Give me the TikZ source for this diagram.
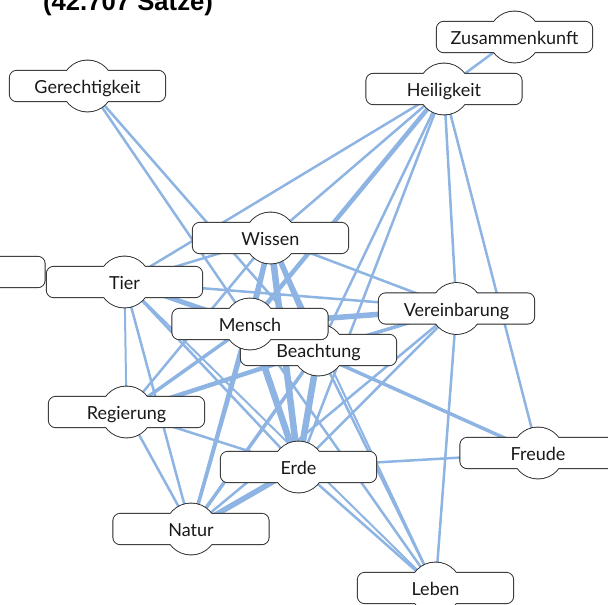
\documentclass[tikz,border=0pt]{standalone}
\usepackage{fontspec}
\setmainfont{Lato}
\newfontfamily\titlefont{Liberation Sans}
\definecolor{edgeblue}{RGB}{141,180,226}
\pgfdeclarelayer{edges}
\pgfdeclarelayer{shapes}
\pgfsetlayers{edges,shapes,main}
\begin{document}
\begin{tikzpicture}[x=1pt,y=-1pt,
  lab/.style={rectangle, inner sep=0pt, minimum width=155pt, minimum height=30pt,
    text height=18pt, text depth=3pt, font=\fontsize{18}{20}\selectfont, text=black!90},
  ed/.style={draw=edgeblue, line width=#1},
  ed/.default=2.5pt,
  outl/.style={fill=white, draw=black!85, line width=1.8pt}]
\useasboundingbox (0,0) rectangle (608,605);

\node[font=\titlefont\bfseries\fontsize{25.7}{28}\selectfont, anchor=base] (title) at (128,10) {(42.707 Sätze)};

\node[lab] (lft) at (-33,272) {};
\node[lab] (ger) at (87.5,86) {Gerechtigkeit};
\node[lab] (zus) at (514.5,37) {Zusammenkunft};
\node[lab] (hei) at (444,89) {Heiligkeit};
\node[lab] (wis) at (270.5,238) {Wissen};
\node[lab] (tie) at (124.5,282) {Tier};
\node[lab] (ver) at (456.5,308.5) {Vereinbarung};
\node[lab] (bea) at (318.5,350) {Beachtung};
\node[lab] (men) at (250,324) {Mensch};
\node[lab] (reg) at (126.5,412) {Regierung};
\node[lab] (erd) at (298.5,467) {Erde};
\node[lab] (fre) at (538,453) {Freude};
\node[lab] (nat) at (191,529) {Natur};
\node[lab] (leb) at (435.5,588) {Leben};

\begin{pgfonlayer}{shapes}
\foreach \n in {lft,ger,zus,hei,wis,tie,ver,reg,bea,men,erd,fre,nat,leb} {
  \path[outl] (\n.center) circle (25.5pt);
  \path[outl, rounded corners=7pt] (\n.south west) rectangle (\n.north east);
  \fill[white] (\n.center) circle (25.5pt);
  \fill[white, rounded corners=7pt] (\n.south west) rectangle (\n.north east);
}
\end{pgfonlayer}

\begin{pgfonlayer}{edges}
% Heiligkeit
\draw[ed=2.5pt] (zus.center) -- (hei.center);
\draw[ed=2.5pt] (hei.center) -- (tie.center);
\draw[ed=2.5pt] (hei.center) -- (wis.center);
\draw[ed=4.5pt] (hei.center) -- (men.center);
\draw[ed=2.5pt] (hei.center) -- (bea.center);
\draw[ed=2.5pt] (hei.center) -- (erd.center);
\draw[ed=2.5pt] (hei.center) -- (ver.center);
\draw[ed=2.5pt] (hei.center) -- (fre.center);
% Gerechtigkeit
\draw[ed=2.5pt] (ger.center) -- (men.center);
\draw[ed=2.5pt] (ger.center) -- (bea.center);
% Tier
\draw[ed=2pt] (tie.center) -- (reg.center);
\draw[ed=3.5pt] (tie.center) -- (men.center);
\draw[ed=4.5pt] (tie.center) -- (bea.center);
\draw[ed=2.5pt] (tie.center) -- (erd.center);
\draw[ed=2.5pt] (tie.center) -- (nat.center);
\draw[ed=2.5pt] (tie.center) -- (ver.center);
\draw[ed=2.5pt] (tie.center) -- (wis.center);
\draw[ed=2pt] (tie.center) -- (leb.center);
% Wissen
\draw[ed=5.5pt] (wis.center) -- (men.center);
\draw[ed=5.5pt] (wis.center) -- (bea.center);
\draw[ed=6.5pt] (wis.center) -- (erd.center);
\draw[ed=2.5pt] (wis.center) -- (ver.center);
\draw[ed=2.5pt] (wis.center) -- (reg.center);
\draw[ed=2.5pt] (wis.center) -- (nat.center);
\draw[ed=2pt] (wis.center) -- (leb.center);
% Mensch
\draw[ed=4.5pt] (men.center) -- (bea.center);
\draw[ed=6.5pt] (men.center) -- (erd.center);
\draw[ed=5.5pt] (men.center) -- (ver.center);
\draw[ed=3.5pt] (men.center) -- (reg.center);
\draw[ed=3.5pt] (men.center) -- (nat.center);
\draw[ed=3.5pt] (men.center) -- (fre.center);
\draw[ed=2.5pt] (men.center) -- (leb.center);
% Beachtung
\draw[ed=6.5pt] (bea.center) -- (erd.center);
\draw[ed=3.5pt] (bea.center) -- (ver.center);
\draw[ed=4.5pt] (bea.center) -- (reg.center);
\draw[ed=3.5pt] (bea.center) -- (nat.center);
\draw[ed=2.5pt] (bea.center) -- (leb.center);
% Vereinbarung
\draw[ed=2.5pt] (ver.center) -- (erd.center);
\draw[ed=2.5pt] (ver.center) -- (nat.center);
\draw[ed=2.5pt] (ver.center) -- (leb.center);
% Regierung, Erde
\draw[ed=2.5pt] (reg.center) -- (erd.center);
\draw[ed=2.5pt] (reg.center) -- (nat.center);
\draw[ed=5.5pt] (erd.center) -- (nat.center);
\draw[ed=2.5pt] (erd.center) -- (fre.center);
\draw[ed=2.5pt] (erd.center) -- (leb.center);
\end{pgfonlayer}
\end{tikzpicture}
\end{document}
